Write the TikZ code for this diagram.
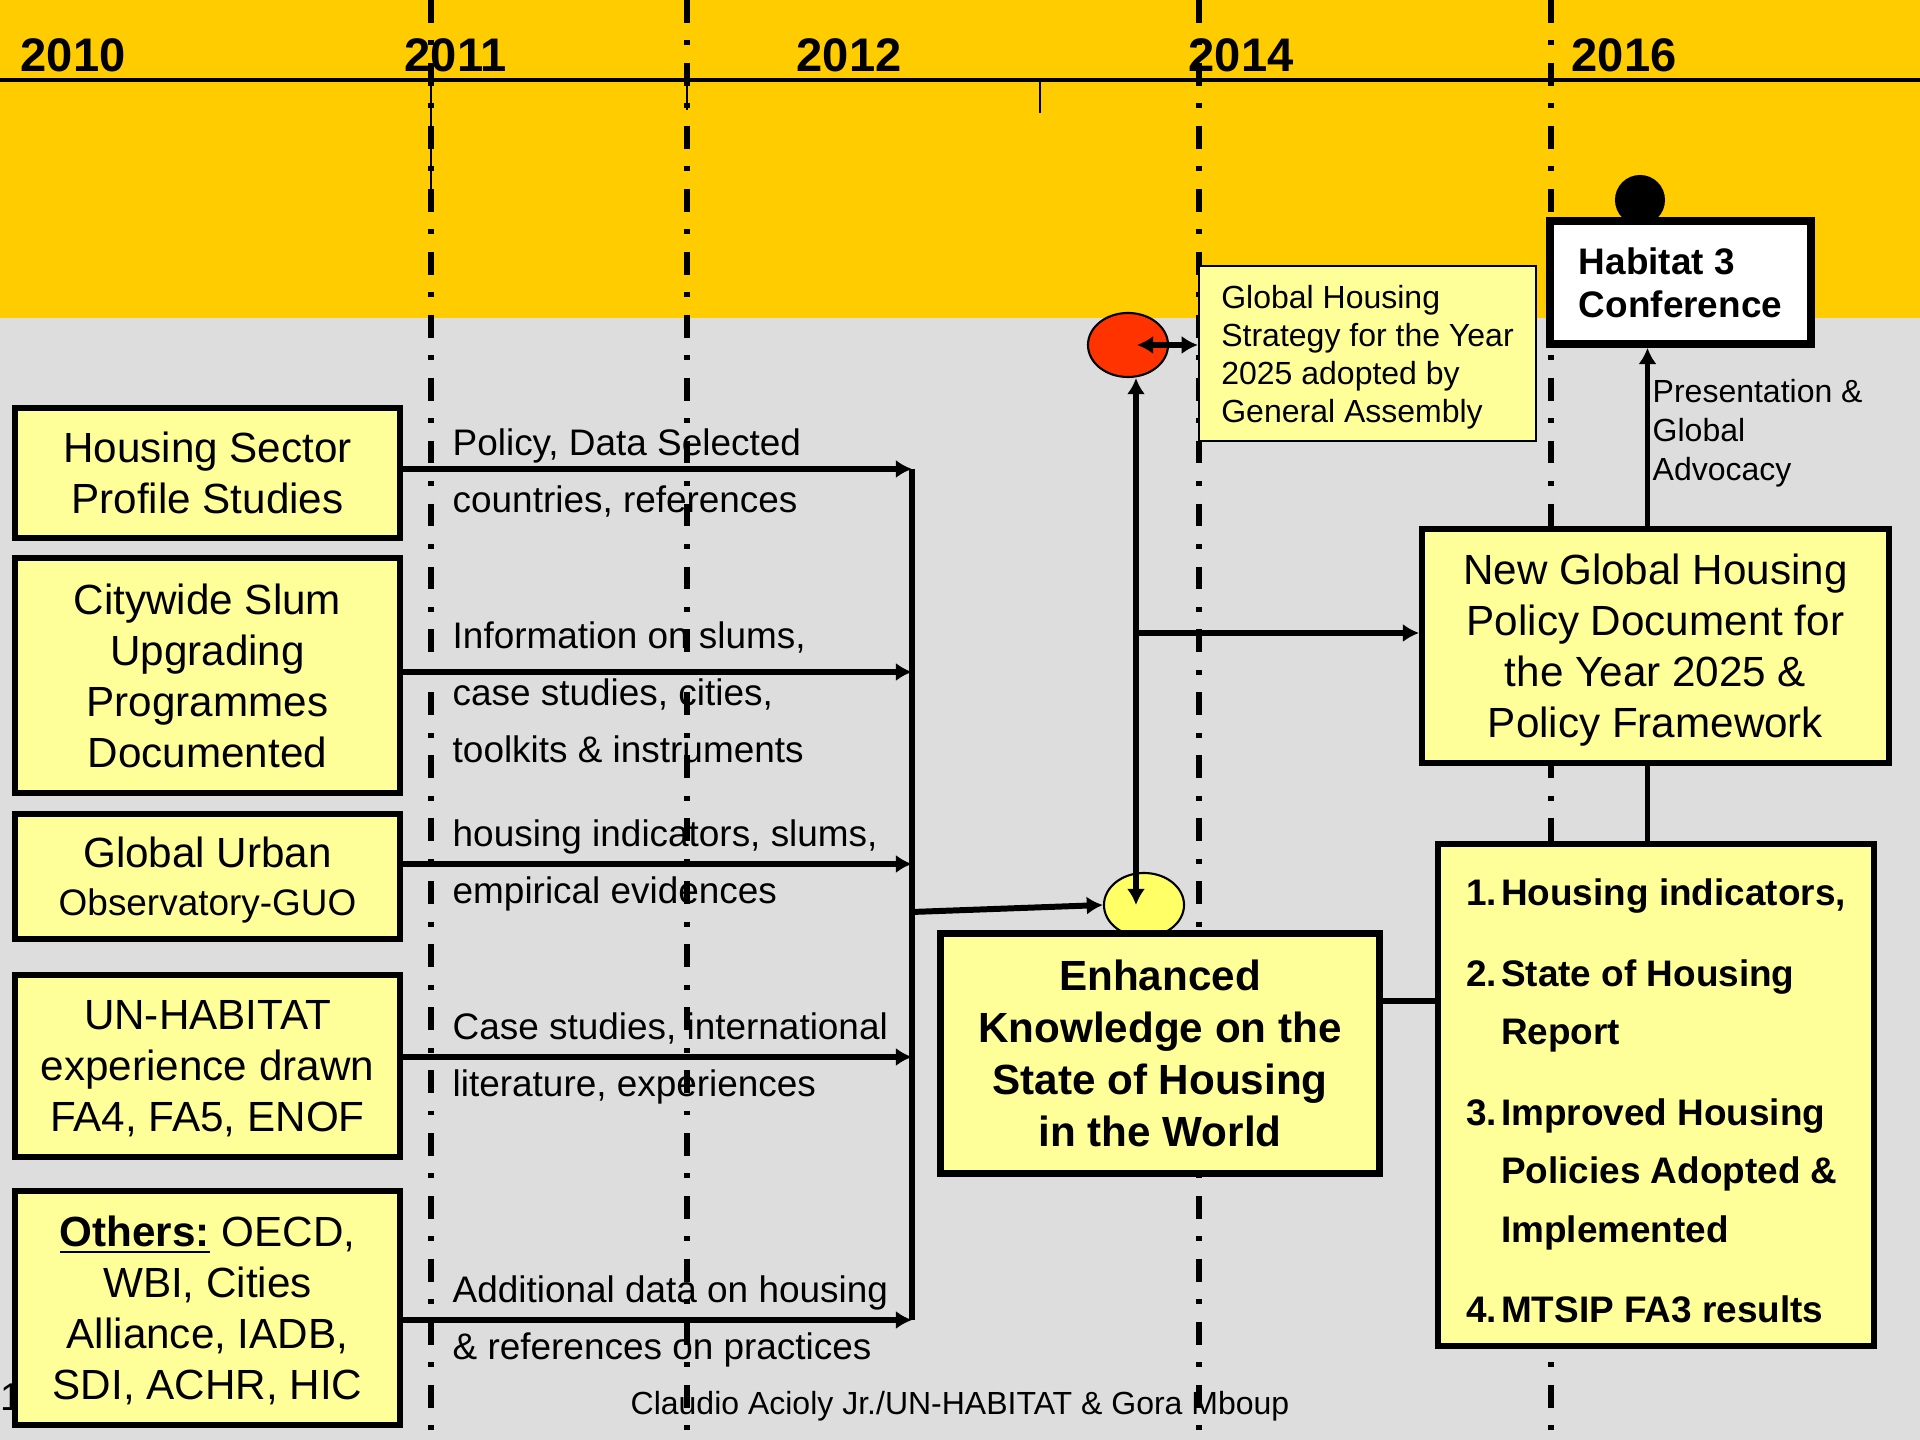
\documentclass[tikz,border=0pt]{standalone}
\usepackage{fontspec}
\setmainfont{Liberation Sans}
\usepackage{tikz}
\usetikzlibrary{positioning, calc, arrows.meta, shapes.geometric}

\definecolor{band}{HTML}{FFCC00}
\definecolor{ground}{HTML}{DDDDDD}
\definecolor{pale}{HTML}{FFFF99}
\definecolor{hot}{HTML}{FF3300}
\definecolor{lemon}{HTML}{FFFF66}

\begin{document}
\begin{tikzpicture}[x=0.01cm, y=-0.01cm,
		src/.style={draw, line width=1.6pt, fill=pale, align=center, inner sep=0pt, text depth=0pt, minimum width=3.85cm, font=\fontsize{12}{14.5}\selectfont},
		goal/.style={draw, line width=2pt, fill=pale, align=center, inner sep=0pt, text depth=0pt, font=\fontsize{12}{14.8}\selectfont\bfseries},
		memo/.style={draw, fill=pale, align=left, inner sep=0pt, text depth=0pt},
		blob/.style={ellipse, draw, line width=0.6pt, inner sep=0pt, minimum width=0.8cm, minimum height=0.64cm},
		note/.style={anchor=west, align=left, inner sep=0pt, text depth=0pt, font=\fontsize{10.5}{16.2}\selectfont},
		year/.style={anchor=west, inner sep=0pt, font=\fontsize{13.4}{16}\selectfont\bfseries},
		yearline/.style={line width=1.6pt, dash pattern=on 6.5pt off 5pt on 1.4pt off 5pt},
		wire/.style={line width=1.7pt},
		flow/.style={line width=1.7pt, -{Latex[length=4.6pt, width=5.2pt]}},
		dflow/.style={line width=1.7pt, {Latex[length=4.6pt, width=5.2pt]}-{Latex[length=4.6pt, width=5.2pt]}}
	]
	\useasboundingbox (0,0) rectangle (1920,1440);
	\fill[band] (0,0) rectangle (1920,318);
	\fill[ground] (0,318) rectangle (1920,1440);
	
	\draw[line width=1pt] (0,80) -- (1920,80);
	\draw[line width=0.6pt] (431,80) -- (431,197);
	\draw[line width=0.6pt] (687,80) -- (687,110);
	\draw[line width=0.6pt] (1040,80) -- (1040,113);
	\foreach \xx in {431, 687, 1199, 1551}
		\draw[yearline] (\xx,0) -- (\xx,1440);
	
	\foreach \yr/\xx in {2010/20, 2011/404, 2012/796, 2014/1188, 2016/1571}
		\node[year] (y\yr) at (\xx,55) {\yr};
	
	\node[font=\fontsize{11}{13}\selectfont] (pg) at (11,1397) {1};
	
	\node[src, minimum height=1.3cm] (hsps) at (207.5,473) {Housing Sector\\Profile Studies};
	\node[src, minimum height=2.35cm] (cwsu) at (207.5,675.5) {Citywide Slum\\Upgrading\\Programmes\\Documented};
	\node[src, minimum height=1.25cm, font=\fontsize{12}{13.6}\selectfont] (guo) at (207.5,876.5) {Global Urban\\{\fontsize{10.5}{13}\selectfont Observatory-GUO}};
	\node[src, minimum height=1.82cm] (unh) at (207.5,1066) {UN-HABITAT\\experience drawn\\FA4, FA5, ENOF};
	\node[src, minimum height=2.34cm] (oth) at (207.5,1308) {\textbf{\underline{Others:}} OECD,\\WBI, Cities\\Alliance, IADB,\\SDI, ACHR, HIC};
	
	\node[blob, fill=hot] (gadot) at (1128,345) {};
	\node[blob, fill=lemon] (kdot) at (1144,905) {};
	\node[circle, fill=black, inner sep=0pt, minimum size=0.5cm] (pin) at (1640,200) {};
	
	\node[goal, minimum width=4.38cm, minimum height=2.39cm] (ekh) at (1160,1053.5) {Enhanced\\Knowledge on the\\State of Housing\\in the World};
	\node[src, minimum width=4.67cm, minimum height=2.34cm] (ngh) at (1655.5,646) {New Global Housing\\Policy Document for\\the Year 2025 \&\\Policy Framework};
	\node[memo, line width=0.6pt, minimum width=3.37cm, minimum height=1.75cm, font=\fontsize{9.1}{10.8}\selectfont] (ghs) at (1367.5,353.5) {Global Housing\\Strategy for the Year\\2025 adopted by\\General Assembly};
	\node[memo, fill=white, line width=2.2pt, minimum width=2.61cm, minimum height=1.23cm, font=\fontsize{10.5}{12.2}\selectfont\bfseries] (hab) at (1680.5,282.5) {Habitat 3\\Conference};
	\node[memo, line width=1.7pt, minimum width=4.36cm, minimum height=5.02cm, font=\fontsize{10.5}{16.6}\selectfont\bfseries] (res) at (1656,1095) {\rule{0pt}{11pt}\makebox[0.35cm][l]{1.}Housing indicators,\\[6.3pt]
		\makebox[0.35cm][l]{2.}State of Housing\\\hspace*{0.35cm}Report\\[6.3pt]
		\makebox[0.35cm][l]{3.}Improved Housing\\\hspace*{0.35cm}Policies Adopted \&\\\hspace*{0.35cm}Implemented\\[6.3pt]
		\makebox[0.35cm][l]{4.}MTSIP FA3 results};
	
	\coordinate (bustop) at (912,469);
	\coordinate (busbot) at (912,1320);
	\coordinate (busmid) at (912,912);
	\coordinate (spine) at (1136,633);
	
	\foreach \src/\dy in {hsps/0.04, cwsu/0.035, guo/0.125, unh/0.09, oth/-0.12}
	{
		\coordinate (s) at ([yshift=\dy cm]\src.east);
		\draw[flow] (s) -- (s -| bustop);
	}
	\draw[wire] (bustop) -- (busbot);
	\draw[flow] (busmid) -- (kdot.west);
	\draw[dflow] (spine |- gadot.south) -- (spine |- kdot.center);
	\draw[flow] (spine) -- (spine -| ngh.west);
	\draw[dflow] ([xshift=0.09cm]gadot.center) -- (gadot.center -| ghs.west);
	\coordinate (up) at ([xshift=-0.08cm]ngh.north);
	\draw[flow] (up) -- (up |- hab.south);
	\draw[wire] (up |- ngh.south) -- (up |- res.north);
	\coordinate (ek) at ([yshift=0.525cm]ekh.east);
	\draw[wire] (ek) -- (ek -| res.west);
	
	\node[note] (l1) at (452,471) {Policy, Data Selected\\countries, references};
	\node[note] (l2) at (452,692.5) {Information on slums,\\case studies, cities,\\toolkits \& instruments};
	\node[note] (l3) at (452,861.5) {housing indicators, slums,\\empirical evidences};
	\node[note] (l4) at (452,1055) {Case studies, international\\literature, experiences};
	\node[note] (l5) at (452,1318) {Additional data on housing\\\& references on practices};
	\node[note, font=\fontsize{9.1}{11}\selectfont] (pga) at (1652,430) {Presentation \&\\Global\\Advocacy};
	\node[font=\fontsize{9.1}{11}\selectfont] (credit) at (960,1406) {Claudio Acioly Jr./UN-HABITAT \& Gora Mboup};
\end{tikzpicture}
\end{document}
